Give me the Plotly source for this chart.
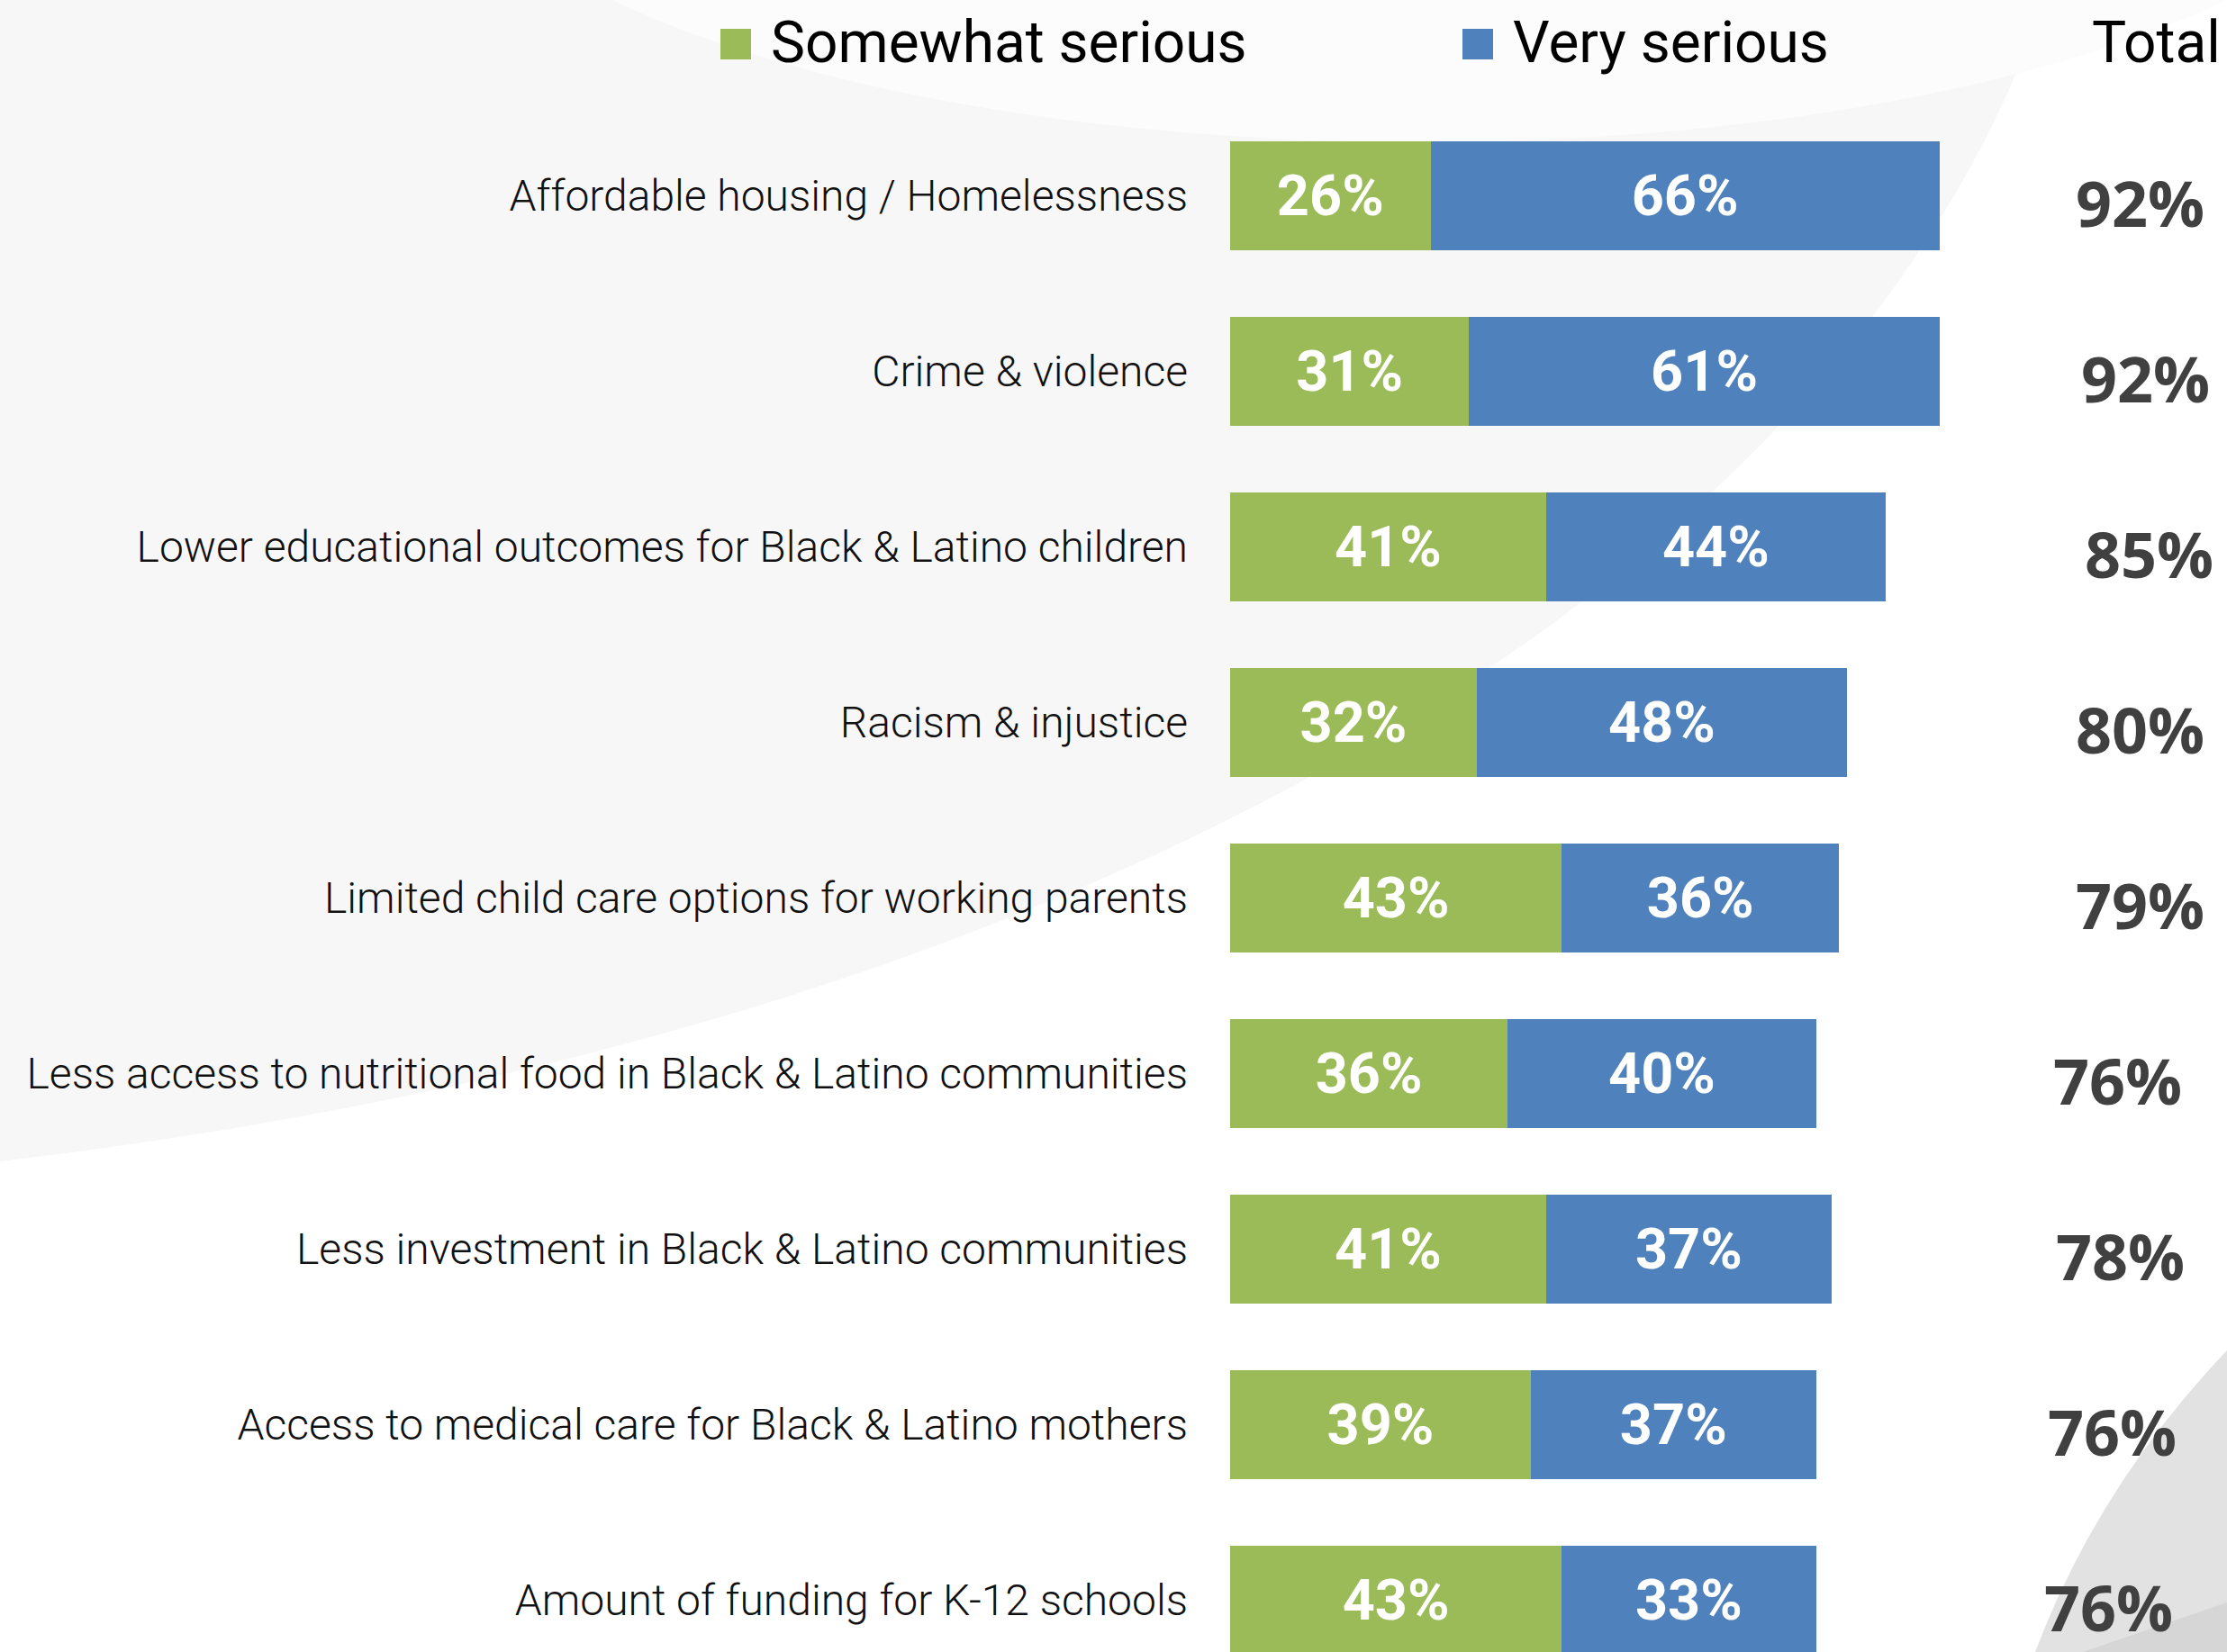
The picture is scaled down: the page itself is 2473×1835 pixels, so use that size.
import plotly.graph_objects as go

# ---- data ----
categories = [
    "Affordable housing / Homelessness",
    "Crime & violence",
    "Lower educational outcomes for Black & Latino children",
    "Racism & injustice",
    "Limited child care options for working parents",
    "Less access to nutritional food in Black & Latino communities",
    "Less investment in Black & Latino communities",
    "Access to medical care for Black & Latino mothers",
    "Amount of funding for K-12 schools",
]
somewhat_serious = [26, 31, 41, 32, 43, 36, 41, 39, 43]
very_serious = [66, 61, 44, 48, 36, 40, 37, 37, 33]
totals = [92, 92, 85, 80, 79, 76, 78, 76, 76]
series_names = ["Somewhat serious", "Very serious"]
total_header = "Total"

# ---- style ----
W, H = 2473, 1835
GREEN = "#9BBB59"
BLUE = "#4F81BD"
TOTAL_COLOR = "#404040"
total_xshift = [9, 15, 19, 9, 9, -16, -13, -22, -26]


def px(x):
    return x / W


def py(y):
    return 1 - y / H


fig = go.Figure()
for name, vals, col in [(series_names[0], somewhat_serious, GREEN),
                        (series_names[1], very_serious, BLUE)]:
    fig.add_trace(go.Bar(
        name=name, y=categories, x=vals, orientation="h",
        marker=dict(color=col, line=dict(width=0)),
        texttemplate="%{x}%", textposition="inside",
        insidetextanchor="middle", textangle=0,
        textfont=dict(family="Roboto", size=63, color="white", weight=700),
        hoverinfo="skip",
    ))

annotations = []
for cat, tot, xs in zip(categories, totals, total_xshift):
    annotations.append(dict(
        x=117, y=cat, xref="x", yref="y", text=f"{tot}%", showarrow=False,
        xshift=xs, yshift=-8,
        font=dict(family="Open Sans", size=70, color=TOTAL_COLOR, weight=700),
    ))

# manual legend
legend_font = dict(family="Roboto", size=64, color="#000000")
annotations += [
    dict(x=px(854), y=py(47), xref="paper", yref="paper", xanchor="left",
         yanchor="middle", text=series_names[0], showarrow=False, font=legend_font),
    dict(x=px(1678), y=py(47), xref="paper", yref="paper", xanchor="left",
         yanchor="middle", text=series_names[1], showarrow=False, font=legend_font),
    dict(x=px(2468), y=py(47), xref="paper", yref="paper", xanchor="right",
         yanchor="middle", text=total_header, showarrow=False, font=legend_font),
]

shapes = [
    # light gray background sweep (upper left)
    dict(type="path", xref="paper", yref="paper", layer="below",
         path=(f"M {px(0)},{py(0)} L {px(2270)},{py(0)} "
               f"C {px(2050)},{py(650)} {px(1200)},{py(1150)} {px(0)},{py(1290)} Z"),
         fillcolor="#f7f7f7", line=dict(width=0)),
    # whiter arc at top
    dict(type="circle", xref="paper", yref="paper", layer="below",
         x0=px(473), x1=px(2680), y0=py(-600), y1=py(158),
         fillcolor="#fcfcfc", line=dict(width=0)),
    # gray wedge bottom right
    dict(type="path", xref="paper", yref="paper", layer="below",
         path=(f"M {px(2473)},{py(1500)} Q {px(2330)},{py(1650)} {px(2260)},{py(1835)} "
               f"L {px(2473)},{py(1835)} Z"),
         fillcolor="#e2e2e2", line=dict(width=0)),
    dict(type="path", xref="paper", yref="paper", layer="below",
         path=(f"M {px(2473)},{py(1780)} L {px(2313)},{py(1835)} "
               f"L {px(2473)},{py(1835)} Z"),
         fillcolor="#d6d6d6", line=dict(width=0)),
    # legend squares
    dict(type="rect", xref="paper", yref="paper",
         x0=px(800), x1=px(834), y0=py(32), y1=py(66),
         fillcolor=GREEN, line=dict(width=0)),
    dict(type="rect", xref="paper", yref="paper",
         x0=px(1624), x1=px(1658), y0=py(32), y1=py(66),
         fillcolor=BLUE, line=dict(width=0)),
]

fig.update_layout(
    width=W, height=H,
    margin=dict(l=0, r=0, t=0, b=0),
    paper_bgcolor="white", plot_bgcolor="rgba(0,0,0,0)",
    barmode="stack", bargap=0.38,
    showlegend=False,
    xaxis=dict(domain=[px(1366), 1], range=[0, 129.3], visible=False,
               fixedrange=True),
    yaxis=dict(domain=[0, py(120)], range=[8.295, -0.5], showgrid=False,
               zeroline=False, showline=False, ticks="",
               ticklabelstandoff=46,
               tickfont=dict(family="Roboto", size=48,
                             color="#111111", weight=300)),
    annotations=annotations,
    shapes=shapes,
)

fig.write_html(
    "out.html",
    config={"displayModeBar": False},
    post_script="document.body.style.margin='0';document.body.style.overflow='hidden';",
)
